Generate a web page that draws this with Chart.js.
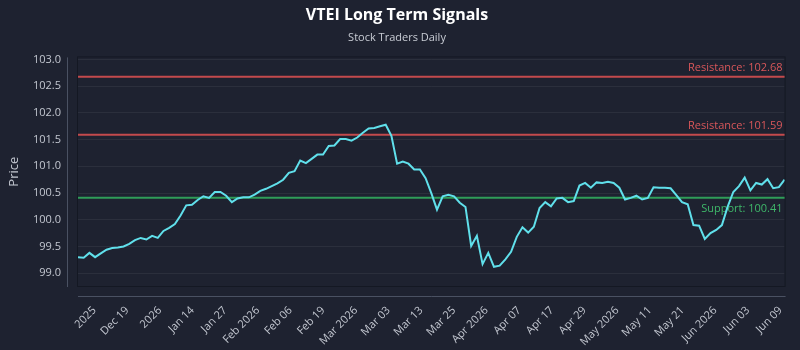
<!DOCTYPE html>
<html>
<head>
<meta charset="utf-8">
<script src="https://cdn.jsdelivr.net/npm/chart.js@4.4.1/dist/chart.umd.min.js"></script>
<style>
  html, body { margin: 0; padding: 0; background: #1e2230; }
  #wrap { width: 800px; height: 350px; }
</style>
</head>
<body>
<div id="wrap"><canvas id="chart" width="800" height="350"></canvas></div>
<script>
'use strict';

// ── Data ──────────────────────────────────────────────────────────────────────

const tickLabels = [
  '2025', 'Dec 19', '2026', 'Jan 14', 'Jan 27', 'Feb 2026', 'Feb 06', 'Feb 19',
  'Mar 2026', 'Mar 03', 'Mar 13', 'Mar 25', 'Apr 2026', 'Apr 07', 'Apr 17',
  'Apr 29', 'May 2026', 'May 11', 'May 21', 'Jun 2026', 'Jun 03', 'Jun 09',
];

const prices = [
  99.30, 99.29, 99.38, 99.30, 99.37, 99.44, 99.47, 99.48, 99.50, 99.55,
  99.62, 99.66, 99.63, 99.70, 99.66, 99.79, 99.85, 99.92, 100.08, 100.27,
  100.28, 100.37, 100.44, 100.41, 100.52, 100.52, 100.45, 100.33, 100.40, 100.42,
  100.42, 100.47, 100.54, 100.58, 100.63, 100.68, 100.75, 100.88, 100.91, 101.11,
  101.06, 101.14, 101.22, 101.22, 101.38, 101.39, 101.51, 101.51, 101.48, 101.54,
  101.63, 101.71, 101.72, 101.75, 101.78, 101.57, 101.05, 101.09, 101.05, 100.94,
  100.94, 100.78, 100.50, 100.19, 100.44, 100.47, 100.44, 100.32, 100.24, 99.51,
  99.70, 99.17, 99.38, 99.12, 99.14, 99.26, 99.40, 99.68, 99.86, 99.76,
  99.87, 100.22, 100.33, 100.25, 100.40, 100.41, 100.33, 100.35, 100.64, 100.69,
  100.60, 100.70, 100.69, 100.71, 100.69, 100.60, 100.38, 100.41, 100.45, 100.38,
  100.41, 100.61, 100.60, 100.60, 100.59, 100.46, 100.33, 100.29, 99.90, 99.89,
  99.64, 99.75, 99.81, 99.90, 100.24, 100.52, 100.63, 100.79, 100.55, 100.69,
  100.66, 100.76, 100.59, 100.61, 100.75,
];

const resistanceLevels = [102.68, 101.59];
const supportLevels = [100.41];

// ── Plugins ───────────────────────────────────────────────────────────────────

// plot frame + offset axis lines
const framePlugin = {
  id: 'frame',
  beforeDatasetsDraw(chart) {
    const { ctx, chartArea: a } = chart;
    ctx.save();
    ctx.strokeStyle = '#141823';
    ctx.lineWidth = 1;
    ctx.strokeRect(a.left - 0.5, a.top - 0.5, a.right - a.left + 1, a.bottom - a.top + 1);
    ctx.strokeStyle = '#4a5162';
    ctx.beginPath();
    ctx.moveTo(a.left - 10.5, a.top);
    ctx.lineTo(a.left - 10.5, a.bottom + 1);
    ctx.moveTo(a.left, a.bottom + 10.5);
    ctx.lineTo(a.right + 1, a.bottom + 10.5);
    ctx.stroke();
    ctx.restore();
  },
};

// support / resistance lines with labels
const levelsPlugin = {
  id: 'levels',
  beforeDatasetsDraw(chart) {
    const { ctx, chartArea: a, scales: { y } } = chart;
    const draw = (val, line, text, label, above) => {
      const py = y.getPixelForValue(val);
      ctx.strokeStyle = line;
      ctx.lineWidth = 2;
      ctx.beginPath();
      ctx.moveTo(a.left, py);
      ctx.lineTo(a.right, py);
      ctx.stroke();
      ctx.fillStyle = text;
      ctx.font = "11px 'Open Sans', sans-serif";
      ctx.textAlign = 'right';
      ctx.textBaseline = 'middle';
      ctx.fillText(label, a.right - 2, above ? py - 9 : py + 11);
    };
    ctx.save();
    resistanceLevels.forEach(v => draw(v, '#c34a4c', '#d9575a', `Resistance: ${v.toFixed(2)}`, true));
    supportLevels.forEach(v => draw(v, '#2f9d58', '#3fb86a', `Support: ${v.toFixed(2)}`, false));
    ctx.restore();
  },
};

// ── Chart ─────────────────────────────────────────────────────────────────────

Chart.defaults.font.family = "'Open Sans', sans-serif";
Chart.defaults.color = '#c3c7d0';

const ctx = document.getElementById('chart').getContext('2d');
new Chart(ctx, {
  type: 'line',
  data: {
    datasets: [{
      label: 'VTEI',
      data: prices.map((p, i) => ({ x: i, y: p })),
      borderColor: '#60e0eb',
      borderWidth: 2,
      pointRadius: 0,
      tension: 0,
      fill: false,
    }],
  },
  options: {
    responsive: false,
    animation: false,
    devicePixelRatio: 1,
    layout: { padding: { left: 6, right: 12, top: 0, bottom: 0 } },
    plugins: {
      legend: { display: false },
      tooltip: { enabled: false },
      title: {
        display: true,
        text: 'VTEI Long Term Signals',
        color: '#ffffff',
        font: { size: 16, weight: 'bold' },
        padding: { top: 6, bottom: 2 },
      },
      subtitle: {
        display: true,
        text: 'Stock Traders Daily',
        color: '#c8ccd4',
        font: { size: 11 },
        padding: { top: 4, bottom: 13 },
      },
    },
    scales: {
      x: {
        type: 'linear',
        min: 0,
        max: prices.length - 1,
        grid: { display: false },
        border: { display: false },
        afterBuildTicks(scale) {
          const first = 2.9, last = prices.length - 1.7;
          const step = (last - first) / (tickLabels.length - 1);
          scale.ticks = tickLabels.map((_, k) => ({ value: first + k * step }));
        },
        afterFit(scale) { scale.height = 64; },
        ticks: {
          autoSkip: false,
          maxRotation: 45,
          minRotation: 45,
          padding: 10,
          font: { size: 11 },
          color: '#c3c7d0',
          callback: (v, i) => tickLabels[i],
        },
      },
      y: {
        min: 98.76,
        max: 103.04,
        grid: { color: 'rgba(255,255,255,0.06)', drawTicks: false },
        border: { display: false },
        afterFit(scale) { scale.width = 72; },
        title: {
          display: true,
          text: 'Price',
          color: '#c3c7d0',
          font: { size: 13 },
          padding: 0,
        },
        ticks: {
          stepSize: 0.5,
          includeBounds: false,
          padding: 17,
          font: { size: 11 },
          color: '#c3c7d0',
          callback: v => v.toFixed(1),
        },
      },
    },
  },
  plugins: [framePlugin, levelsPlugin],
});
</script>
</body>
</html>
